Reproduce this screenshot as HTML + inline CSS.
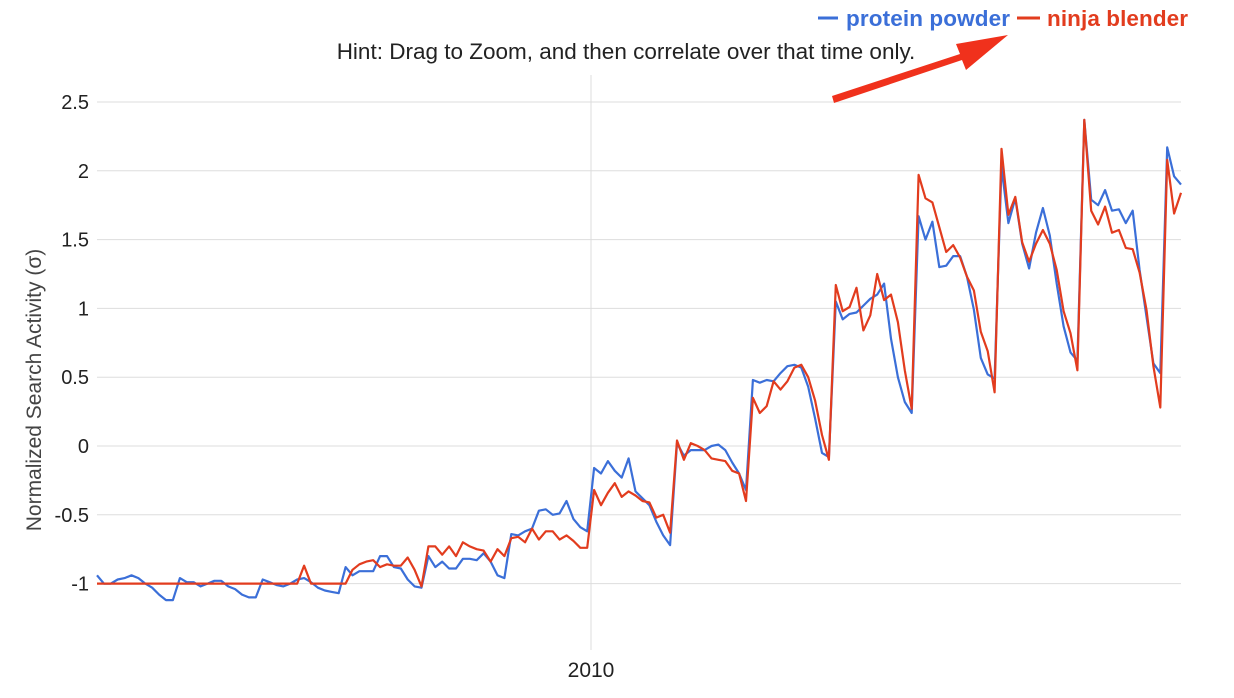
<!DOCTYPE html>
<html><head><meta charset="utf-8"><style>
body{margin:0;background:#fff;font-family:"Liberation Sans",sans-serif;}
svg{display:block}
</style></head><body>
<svg id="chart" width="1234" height="698">
<g id="grid"></g>
<g id="axes"></g>
<g id="series"></g>
<text x="626" y="59" text-anchor="middle" font-size="22.5" fill="#222">Hint: Drag to Zoom, and then correlate over that time only.</text>
<g>
<g>
<line x1="818" y1="18" x2="838" y2="18" stroke="#3b6fd8" stroke-width="3"/>
<text x="846" y="26" font-size="22.5" font-weight="bold" fill="#3b6fd8" textLength="164">protein powder</text></g>
<g>
<line x1="1017" y1="18" x2="1040" y2="18" stroke="#e23c1e" stroke-width="3"/>
<text x="1047" y="26" font-size="22.5" font-weight="bold" fill="#e23c1e" textLength="141">ninja blender</text></g>
</g>
<g>
<polygon points="832,96 960,54 956,44 1008,35 966,70 962,60 834,103" fill="#f0311c"/>
</g>
<text transform="translate(41,390) rotate(-90)" text-anchor="middle" font-size="21" fill="#444">Normalized Search Activity (σ)</text>
</svg>
<script>
const yTicks=[2.5,2,1.5,1,0.5,0,-0.5,-1];
const yTickLabels=["2.5","2","1.5","1","0.5","0","-0.5","-1"];
const xTickIndex=[71.55];
const xTickLabels=["2010"];
const proteinPowder=[-0.94,-1.0,-1.0,-0.97,-0.96,-0.94,-0.96,-1.0,-1.03,-1.08,-1.12,-1.12,-0.96,-0.99,-0.99,-1.02,-1.0,-0.98,-0.98,-1.02,-1.04,-1.08,-1.1,-1.1,-0.97,-0.99,-1.01,-1.02,-1.0,-0.97,-0.96,-0.99,-1.03,-1.05,-1.06,-1.07,-0.88,-0.94,
-0.91,-0.91,-0.91,-0.80,-0.80,-0.88,-0.89,-0.97,-1.02,-1.03,-0.80,-0.88,-0.84,-0.89,-0.89,-0.82,-0.82,-0.83,-0.78,-0.84,-0.94,-0.96,-0.64,-0.65,-0.62,-0.60,-0.47,-0.46,-0.50,-0.49,-0.40,-0.53,-0.59,-0.62,-0.16,-0.20,-0.11,-0.18,-0.23,-0.09,-0.33,-0.38,
-0.43,-0.55,-0.65,-0.72,
0.02,-0.07,-0.03,-0.03,-0.03,0.0,0.01,-0.03,-0.12,-0.2,-0.32,
0.48,0.46,0.48,0.47,0.53,0.58,0.59,0.57,0.43,0.2,-0.05,-0.08,1.05,0.92,0.96,0.97,1.02,1.07,1.1,1.18,0.78,0.5,0.32,0.24,
1.67,1.50,1.63,1.30,1.31,1.38,1.38,1.23,0.99,0.64,0.52,0.49,2.03,1.62,1.80,1.47,1.29,1.55,1.73,1.53,1.18,0.87,0.68,0.62,2.37,1.79,1.75,1.86,1.71,1.72,1.62,1.71,1.28,0.94,0.60,0.53,2.17,1.96,1.90];
const ninjaBlender=[-1,-1,-1,-1,-1,-1,-1,-1,-1,-1,-1,-1,-1,-1,-1,-1,-1,-1,-1,-1,-1,-1,-1,-1,-1,-1,-1,-1,-1,-1,-0.87,-1,-1,-1,-1,-1,-1,-0.9,
-0.86,-0.84,-0.83,-0.88,-0.86,-0.87,-0.87,-0.81,-0.9,-1.02,-0.73,-0.73,-0.79,-0.73,-0.80,-0.70,-0.73,-0.75,-0.76,-0.84,-0.75,-0.80,-0.67,-0.66,-0.70,-0.60,-0.68,-0.62,-0.62,-0.68,-0.65,-0.69,-0.74,-0.74,-0.32,-0.43,-0.34,-0.27,-0.37,-0.33,-0.36,-0.40,
-0.41,-0.52,-0.50,-0.63,
0.04,-0.10,0.02,0.0,-0.03,-0.09,-0.10,-0.11,-0.18,-0.2,-0.4,
0.35,0.24,0.29,0.47,0.41,0.47,0.57,0.59,0.5,0.33,0.08,-0.1,1.17,0.98,1.01,1.15,0.84,0.95,1.25,1.06,1.1,0.9,0.55,0.27,
1.97,1.80,1.77,1.59,1.41,1.46,1.37,1.23,1.13,0.83,0.69,0.39,2.16,1.68,1.81,1.48,1.34,1.47,1.57,1.47,1.28,0.98,0.82,0.55,2.37,1.71,1.61,1.74,1.55,1.57,1.44,1.43,1.26,0.99,0.58,0.28,2.08,1.69,1.84];

const NS="http://www.w3.org/2000/svg";
const X0=97,X1=1181,N=proteinPowder.length;
function xs(i){return X0+i*(X1-X0)/(N-1);}
function ys(v){return 446-v*137.6;}
const grid=document.getElementById('grid'),axes=document.getElementById('axes'),ser=document.getElementById('series');
yTicks.forEach((t,k)=>{
  const l=document.createElementNS(NS,'line');
  l.setAttribute('x1',X0);l.setAttribute('x2',X1);l.setAttribute('y1',ys(t));l.setAttribute('y2',ys(t));
  l.setAttribute('stroke','#ddd');l.setAttribute('stroke-width','1');
  
  
  grid.appendChild(l);
  const tx=document.createElementNS(NS,'text');
  tx.setAttribute('x',89);tx.setAttribute('y',ys(t)+7);tx.setAttribute('text-anchor','end');
  tx.setAttribute('font-size','20');tx.setAttribute('fill','#222');tx.textContent=yTickLabels[k];
  
  
  axes.appendChild(tx);
});
xTickIndex.forEach((xi,k)=>{
  const x=xs(xi);
  const l=document.createElementNS(NS,'line');
  l.setAttribute('x1',x);l.setAttribute('x2',x);l.setAttribute('y1',75);l.setAttribute('y2',650);
  l.setAttribute('stroke','#ddd');
  
  
  grid.appendChild(l);
  const tx=document.createElementNS(NS,'text');
  tx.setAttribute('x',x);tx.setAttribute('y',677);tx.setAttribute('text-anchor','middle');
  tx.setAttribute('font-size','21');tx.setAttribute('fill','#222');tx.textContent=xTickLabels[k];
  
  
  axes.appendChild(tx);
});
function line(arr,color,name){
  const p=document.createElementNS(NS,'polyline');
  p.setAttribute('points',arr.map((v,i)=>xs(i).toFixed(1)+','+ys(v).toFixed(1)).join(' '));
  p.setAttribute('fill','none');p.setAttribute('stroke',color);p.setAttribute('stroke-width','2.2');
  p.setAttribute('stroke-linejoin','round');
  
  
  ser.appendChild(p);
}
line(proteinPowder,'#3b6fd8','protein-powder-line');
line(ninjaBlender,'#e23c1e','ninja-blender-line');
</script>
</body></html>
